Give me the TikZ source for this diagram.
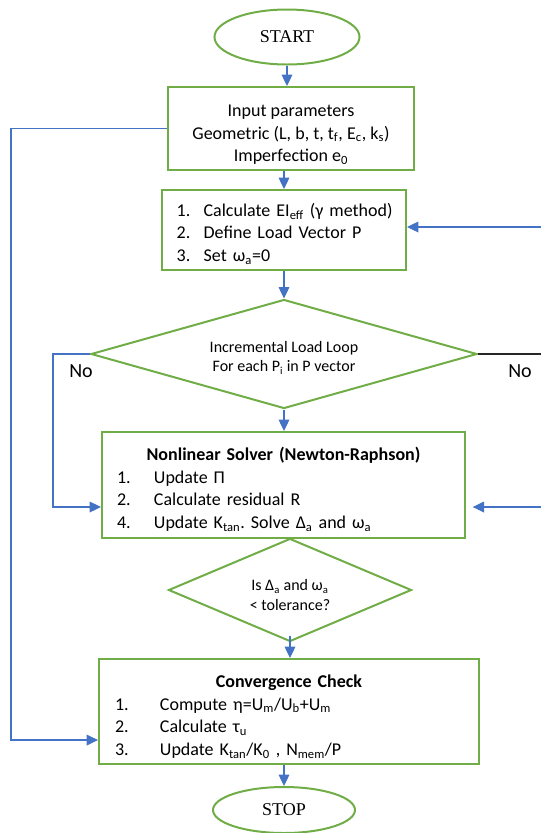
\documentclass[tikz,border=0pt]{standalone}
\usepackage{fontspec}
\setmainfont{Carlito}
\newfontfamily\termfont{Liberation Serif}
\usetikzlibrary{shapes.geometric,arrows.meta}
\definecolor{flowgreen}{RGB}{112,173,71}
\definecolor{flowblue}{RGB}{68,114,196}
\newcommand{\lo}[1]{\textsubscript{#1}}
\newcommand{\num}[2]{\makebox[#1][l]{#2}}
\newcommand{\topgap}[1]{\rule{0pt}{#1}}

\begin{document}
\frenchspacing
\begin{tikzpicture}[x=0.75pt,y=-0.75pt,
	box/.style={draw=flowgreen,line width=1.5pt,rectangle,font=\fontsize{13.5}{17}\selectfont},
	term/.style={draw=flowgreen,line width=1.5pt,ellipse,inner sep=0pt,font=\termfont\fontsize{13.5}{17}\selectfont},
	test/.style={draw=flowgreen,line width=1.5pt,diamond,inner sep=0pt,align=center,font=\fontsize{12}{14.5}\selectfont},
	link/.style={draw=flowblue,line width=0.9pt,-{Triangle[length=8.5pt,width=8pt]}}]
				\useasboundingbox (0,0) rectangle (541,833);
				% terminals
				\node [term,minimum width=108.75pt,minimum height=41.25pt] (start) at (287,37) {START};
				\node [term,minimum width=106.5pt,minimum height=34.5pt] (stop) at (284,810) {STOP};
				% process boxes
				\node [box,align=center,inner sep=0pt,minimum width=184.5pt,minimum height=62.25pt] (input) at (291,128.5)
					{\topgap{18pt}Input parameters\\Geometric (L, b, t, t\lo{f}, E\lo{c}, k\lo{s})\\Imperfection e\lo{0}};
				\node [box,align=left,inner xsep=4pt,text width=175pt,minimum height=60pt] (calc) at (284,230)
					{\topgap{15.5pt}\num{27.25pt}{\hspace*{7pt}1.}Calculate EI\lo{eff} (γ method)\\
					 \num{27.25pt}{\hspace*{7pt}2.}Define Load Vector P\\
					 \num{27.25pt}{\hspace*{7pt}3.}Set ω\lo{a}=0};
				\node [test,minimum width=289.5pt,minimum height=81.75pt,shape aspect=3.5] (loop) at (284,354)
					{\topgap{14pt}Incremental Load Loop\\For each P\lo{i} in P vector};
				\node [box,align=left,inner xsep=11.25pt,text width=249.75pt,minimum height=79.5pt] (solver) at (283.5,485)
					{\topgap{16.5pt}\makebox[\linewidth]{\bfseries Nonlinear Solver (Newton-Raphson)}\\
					 \num{27.75pt}{1.}Update Π\\
					 \num{27.75pt}{2.}Calculate residual R\\
					 \num{27.75pt}{4.}Update K\lo{tan}. Solve Δ\lo{a} and ω\lo{a}};
				\node [test,minimum width=182.25pt,minimum height=77.25pt,shape aspect=2.36] (tol) at (290,590)
					{\topgap{16pt}Is Δ\lo{a} and ω\lo{a}\\< tolerance?};
				\node [box,align=left,inner xsep=12pt,text width=261pt,minimum height=78.75pt] (conv) at (289,711.5)
					{\topgap{17pt}\makebox[\linewidth]{\bfseries Convergence Check}\\
					 \num{33.75pt}{1.}Compute η=U\lo{m}/U\lo{b}+U\lo{m}\\
					 \num{33.75pt}{2.}Calculate τ\lo{u}\\
					 \num{33.75pt}{3.}Update K\lo{tan}/K\lo{0} , N\lo{mem}/P};
				% labels
				\node [font=\fontsize{15}{17}\selectfont] (noleft) at (81,371) {No};
				\node [font=\fontsize{15}{17}\selectfont] (noright) at (520,371) {No};
				% rails
				\coordinate (rail) at (11,0);
				\coordinate (loopbend) at (53,0);
				\coordinate (edge) at (541,0);
				\coordinate (convin) at ([yshift=-21.4pt]conv.west);
				\coordinate (solverin) at ([yshift=-16.5pt]solver.west);
				\coordinate (solverback) at ([yshift=-16.5pt]solver.east);
				\coordinate (calcback) at ([yshift=2.25pt]calc.east);
				% main flow
				\draw [link] (start.south) -- (start.south |- input.north);
				\draw [link] (calc.north |- input.south) -- (calc.north);
				\draw [link] (calc.south) -- (loop.north);
				\draw [link] (loop.south) -- (loop.south |- solver.north);
				\draw [link] ([yshift=5pt]tol.south) -- (tol.south |- conv.north);
				\draw [link] (stop.north |- conv.south) -- (stop.north);
				% side loops
				\draw [link] (input.west) -- (input.west -| rail) |- (convin);
				\draw [link] (loop.west) -- (loop.west -| loopbend) |- (solverin);
				\draw [black!85,line width=0.8pt] (loop.east) -- (loop.east -| edge);
				\draw [link] (calcback -| edge) -- (calcback);
				\draw [link] (solverback -| edge) -- ([xshift=5pt]solverback);
\end{tikzpicture}
\end{document}
